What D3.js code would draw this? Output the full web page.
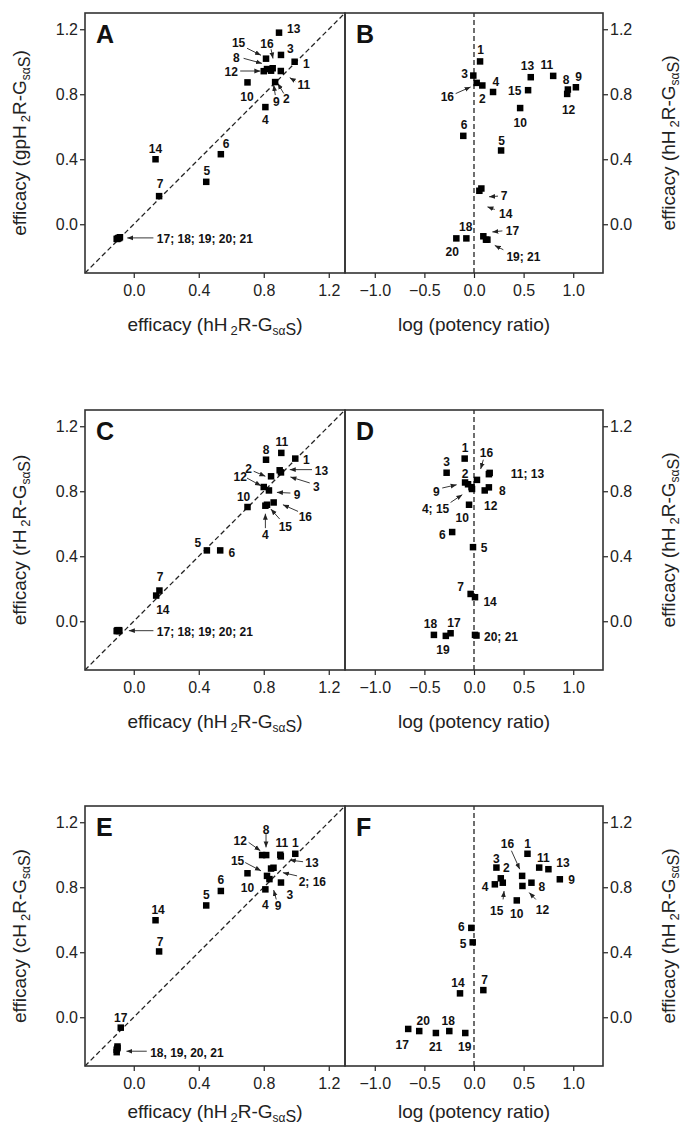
<!DOCTYPE html>
<html><head><meta charset="utf-8">
<script src="https://cdn.jsdelivr.net/npm/d3@7"></script>
<style>
body{margin:0;background:#fff}
svg{display:block}
text{font-family:"Liberation Sans",Arial,Helvetica,sans-serif}
</style>
</head><body>
<svg id="c" width="683" height="1126"></svg>
<script>
// ---------- DATA (compounds 1..21) ----------
const compounds = d3.range(1, 22).map(String);

// Panel A: x = efficacy hH2R-Gsas, y = efficacy gpH2R-Gsas
const effH_A  = [0.99,0.87,0.906,0.81,0.446,0.536,0.156,0.82,0.845,0.70,0.905,0.80,0.894,0.134,0.814,0.855,-0.085,-0.095,-0.10,-0.09,-0.105];
const effGp_A = [1.00,0.875,1.042,0.721,0.261,0.431,0.173,0.955,0.945,0.873,0.943,0.942,1.179,0.40,1.019,0.96,-0.08,-0.085,-0.09,-0.085,-0.09];
// Panel B: x = log potency ratio (gp), y = efficacy hH2R
const logPR_B = [0.061,0.084,-0.007,0.192,0.273,-0.108,0.074,0.946,1.027,0.465,0.798,0.939,0.572,0.054,0.545,0.027,0.094,-0.077,0.121,-0.178,0.135];
const effH_B  = [1.002,0.854,0.915,0.814,0.454,0.544,0.22,0.829,0.843,0.715,0.913,0.802,0.905,0.206,0.825,0.87,-0.074,-0.087,-0.095,-0.087,-0.095];
// Panel C: x = efficacy hH2R, y = efficacy rH2R
const effH_C  = [0.994,0.845,0.906,0.81,0.45,0.532,0.158,0.814,0.832,0.70,0.908,0.80,0.898,0.138,0.82,0.861,-0.09,-0.10,-0.105,-0.09,-0.10];
const effR_C  = [1.001,0.892,0.916,0.711,0.436,0.436,0.189,0.994,0.805,0.703,1.036,0.826,0.929,0.158,0.717,0.731,-0.055,-0.06,-0.06,-0.06,-0.055];
// Panel D: x = log potency ratio (r), y = efficacy hH2R
const logPR_D = [-0.094,-0.09,-0.276,-0.02,-0.01,-0.22,-0.034,0.15,-0.06,-0.05,0.158,0.108,0.15,0.01,-0.025,0.03,-0.236,-0.404,-0.284,0.01,0.025];
const effH_D  = [1.001,0.854,0.914,0.814,0.456,0.549,0.168,0.824,0.843,0.717,0.913,0.805,0.905,0.148,0.825,0.87,-0.074,-0.084,-0.09,-0.084,-0.088];
// Panel E: x = efficacy hH2R, y = efficacy cH2R
const effH_E  = [0.994,0.845,0.906,0.81,0.446,0.536,0.156,0.815,0.835,0.70,0.902,0.79,0.905,0.134,0.82,0.86,-0.08,-0.10,-0.105,-0.10,-0.105];
const effC_E  = [1.006,0.915,0.829,0.787,0.688,0.777,0.405,0.998,0.85,0.886,1.0,0.998,0.99,0.597,0.87,0.92,-0.064,-0.18,-0.20,-0.19,-0.215];
// Panel F: x = log potency ratio (c), y = efficacy hH2R
const logPR_F = [0.539,0.27,0.226,0.21,-0.013,-0.027,0.094,0.579,0.865,0.431,0.657,0.488,0.75,-0.141,0.29,0.485,-0.663,-0.249,-0.088,-0.552,-0.384];
const effH_F  = [1.006,0.855,0.921,0.818,0.461,0.55,0.167,0.828,0.849,0.719,0.921,0.808,0.911,0.147,0.828,0.87,-0.072,-0.085,-0.097,-0.085,-0.097];

// tick values
const effTicks = [0.0, 0.4, 0.8, 1.2];
const logTicks = [-1.0, -0.5, 0.0, 0.5, 1.0];

// annotation labels [text, x, y, anchor] and arrows [x1,y1,x2,y2] in data units
const labA = [["13",0.984,1.206],["15",0.645,1.118],["16",0.82,1.114],["3",0.964,1.083],["8",0.631,1.027],["1",1.062,0.986],
  ["12",0.60,0.939],["11",1.046,0.857],["10",0.697,0.785],["2",0.939,0.775],["9",0.877,0.754],["4",0.81,0.641],["6",0.569,0.493],
  ["5",0.45,0.329],["14",0.134,0.466],["7",0.162,0.251],["17; 18; 19; 20; 21",0.142,-0.088,"start"]];
const arrA = [[0.697,1.083,0.783,1.04],[0.845,1.077,0.857,1.02],[0.676,1.021,0.789,0.99],[0.655,0.943,0.779,0.943],
  [0.994,0.881,0.96,0.902],[0.923,0.805,0.886,0.867],[0.871,0.795,0.861,0.857],[0.121,-0.084,-0.04,-0.084]];
const labB = [["1",0.067,1.072],["3",-0.094,0.928],["4",0.219,0.88],["16",-0.269,0.788],["2",0.084,0.771],["13",0.539,0.973],
  ["11",0.734,0.984],["15",0.411,0.819],["8",0.929,0.891],["9",1.054,0.911],["12",0.953,0.705],["10",0.465,0.627],["6",-0.101,0.61],
  ["5",0.279,0.515],["7",0.303,0.177],["14",0.32,0.066],["18",-0.084,-0.016],["17",0.387,-0.041],["20",-0.219,-0.171],["19; 21",0.498,-0.202]];
const arrB = [[-0.185,0.804,-0.034,0.845],[0.242,0.173,0.152,0.169],[0.209,0.091,0.135,0.107],[0.286,-0.041,0.185,-0.047],[0.296,-0.157,0.209,-0.13]];
const labC = [["11",0.912,1.107],["8",0.814,1.056],["1",1.062,0.994],["2",0.707,0.937],["13",1.155,0.929],["12",0.655,0.888],
  ["3",1.124,0.83],["9",1.005,0.779],["10",0.676,0.764],["16",1.056,0.645],["15",0.933,0.584],["4",0.81,0.532],["5",0.394,0.481],
  ["6",0.604,0.423],["7",0.162,0.275],["14",0.179,0.07],["17; 18; 19; 20; 21",0.142,-0.062,"start"]];
const arrC = [[0.738,0.923,0.81,0.892],[1.097,0.933,0.96,0.933],[0.697,0.881,0.783,0.834],[1.083,0.851,0.964,0.888],
  [0.964,0.789,0.881,0.793],[1.011,0.676,0.918,0.717],[0.898,0.629,0.844,0.69],[0.81,0.573,0.81,0.662],[0.121,-0.058,-0.03,-0.058]];
const labD = [["1",-0.091,1.07],["16",0.125,1.04],["3",-0.276,0.984],["2",-0.091,0.908],["11; 13",0.37,0.906,"start"],["9",-0.38,0.799],
  ["8",0.286,0.803],["4; 15",-0.387,0.69],["12",0.168,0.711],["10",-0.118,0.635],["6",-0.32,0.532],["5",0.101,0.45],["7",-0.135,0.214],
  ["14",0.162,0.121],["18",-0.438,-0.012],["17",-0.202,-0.008],["19",-0.313,-0.173],["20; 21",0.101,-0.095,"start"]];
const arrD = [[0.094,0.994,0.067,0.937],[-0.32,0.82,-0.175,0.84],[-0.236,0.731,-0.118,0.779]];
const labE = [["8",0.814,1.155],["12",0.655,1.087],["11",0.912,1.072],["1",0.994,1.076],["15",0.639,0.963],["13",1.097,0.952],
  ["2; 16",1.015,0.833,"start"],["10",0.70,0.798],["3",0.96,0.756],["4",0.81,0.69],["9",0.888,0.684],["6",0.536,0.845],["5",0.446,0.756],
  ["14",0.15,0.659],["7",0.162,0.467],["17",-0.08,-0.002],["18, 19, 20, 21",0.101,-0.215,"start"]];
const arrE = [[0.814,1.128,0.814,1.045],[0.707,1.076,0.779,1.025],[0.686,0.952,0.783,0.901],[1.042,0.957,0.96,0.967],
  [1.005,0.87,0.918,0.89],[0.877,0.725,0.861,0.783],[0.08,-0.209,-0.045,-0.209]];
const labF = [["16",0.337,1.066],["1",0.539,1.066],["3",0.226,0.977],["2",0.327,0.921],["11",0.70,0.983],["13",0.896,0.952],
  ["9",0.983,0.845],["4",0.111,0.804],["8",0.684,0.804],["15",0.229,0.653],["10",0.431,0.638],["12",0.69,0.659],["6",-0.128,0.556],
  ["5",-0.111,0.45],["14",-0.162,0.213],["7",0.108,0.233],["20",-0.512,-0.019],["18",-0.259,-0.019],["17",-0.724,-0.169],
  ["21",-0.387,-0.184],["19",-0.094,-0.184]];
const arrF = [[0.377,1.025,0.461,0.911],[0.293,0.725,0.303,0.777],[0.623,0.725,0.556,0.767]];

// ---------- LAYOUT ----------
const svg = d3.select("#c");
const rowTop = [13, 410, 806];
const titleGap = [58, 58, 52];
const PH = 260;
const LX = [85, 345], RX = [345, 603];
const ink = "#222";

const defs = svg.append("defs");
defs.append("marker").attr("id","ah").attr("viewBox","0 0 10 10").attr("refX",10).attr("refY",5)
  .attr("markerWidth",6).attr("markerHeight",6).attr("markerUnits","userSpaceOnUse").attr("orient","auto")
  .append("path").attr("d","M0,1 L10,5 L0,9 Z").attr("fill",ink);

const panels = [
  {L:"A",row:0,side:"L",xs:effH_A,ys:effGp_A,lab:labA,arr:arrA,pre:"gp"},
  {L:"B",row:0,side:"R",xs:logPR_B,ys:effH_B,lab:labB,arr:arrB},
  {L:"C",row:1,side:"L",xs:effH_C,ys:effR_C,lab:labC,arr:arrC,pre:"r"},
  {L:"D",row:1,side:"R",xs:logPR_D,ys:effH_D,lab:labD,arr:arrD},
  {L:"E",row:2,side:"L",xs:effH_E,ys:effC_E,lab:labE,arr:arrE,pre:"c"},
  {L:"F",row:2,side:"R",xs:logPR_F,ys:effH_F,lab:labF,arr:arrF}
];

function effTitle(t, pre){
  t.append("tspan").text("efficacy (" + pre + "H");
  t.append("tspan").attr("font-size","13px").attr("dx",3).attr("dy",4).text("2");
  t.append("tspan").attr("dy",-4).text("R-G");
  t.append("tspan").attr("font-size","12px").attr("dy",4).text("sα");
  t.append("tspan").attr("font-size","16px").text("S");
  t.append("tspan").attr("dy",-4).text(")");
}

panels.forEach(p => {
  const top = rowTop[p.row], bot = top + PH;
  const xr = p.side === "L" ? LX : RX;
  const x = d3.scaleLinear().domain(p.side === "L" ? [-0.3, 1.3] : [-1.3, 1.3]).range(xr);
  const y = d3.scaleLinear().domain([-0.3, 1.3]).range([bot, top]);
  const g = svg.append("g");

  // reference dashed line
  if (p.side === "L") {
    g.append("line").attr("x1",x(-0.3)).attr("y1",y(-0.3)).attr("x2",x(1.3)).attr("y2",y(1.3))
      .attr("stroke",ink).attr("stroke-width",1.3).attr("stroke-dasharray","5,3");
  } else {
    g.append("line").attr("x1",x(0)).attr("y1",y(-0.3)).attr("x2",x(0)).attr("y2",y(1.3))
      .attr("stroke",ink).attr("stroke-width",1.3).attr("stroke-dasharray","5,3");
  }

  // axes
  const xAxis = d3.axisBottom(x).tickValues(p.side === "L" ? effTicks : logTicks)
    .tickFormat(d3.format(".1f")).tickSize(5).tickPadding(7);
  const xg = g.append("g").attr("transform",`translate(0,${bot})`).call(xAxis);
  let yg;
  if (p.side === "L") {
    yg = g.append("g").attr("transform",`translate(${xr[0]},0)`)
      .call(d3.axisLeft(y).tickValues(effTicks).tickFormat(d3.format(".1f")).tickSize(5).tickPadding(2));
  } else {
    yg = g.append("g").attr("transform",`translate(${xr[1]},0)`)
      .call(d3.axisRight(y).tickValues(effTicks).tickFormat(d3.format(".1f")).tickSize(5).tickPadding(2));
  }
  [xg, yg].forEach(a => {
    a.select(".domain").remove();
    a.selectAll("line").attr("stroke",ink).attr("stroke-width",1.2);
    a.selectAll("text").attr("fill",ink).attr("font-size","16px")
      .attr("font-family",'"Liberation Sans",Arial,sans-serif');
  });

  // frame
  g.append("rect").attr("x",xr[0]).attr("y",top).attr("width",xr[1]-xr[0]).attr("height",PH)
    .attr("fill","none").attr("stroke","#333").attr("stroke-width",1.6);

  // arrows
  g.selectAll(".arr").data(p.arr).join("line")
    .attr("x1",d=>x(d[0])).attr("y1",d=>y(d[1])).attr("x2",d=>x(d[2])).attr("y2",d=>y(d[3]))
    .attr("stroke",ink).attr("stroke-width",0.9).attr("marker-end","url(#ah)");

  // points
  const s = 6.5;
  g.selectAll(".pt").data(compounds).join("rect")
    .attr("x",(d,i)=>x(p.xs[i]) - s/2).attr("y",(d,i)=>y(p.ys[i]) - s/2)
    .attr("width",s).attr("height",s).attr("fill","#000");

  // point labels
  g.selectAll(".lb").data(p.lab).join("text")
    .attr("x",d=>x(d[1])).attr("y",d=>y(d[2])).attr("dy","0.36em")
    .attr("text-anchor",d=>d[3] || "middle")
    .attr("font-size","12px").attr("font-weight","bold").attr("fill","#111").text(d=>d[0]);

  // panel letter
  g.append("text").attr("x",xr[0]+11).attr("y",top+30).attr("font-size","25px").attr("font-weight","bold")
    .attr("fill","#111").text(p.L);

  // x-axis title
  const xt = g.append("text").attr("x",(xr[0]+xr[1])/2).attr("y",bot+titleGap[p.row]).attr("text-anchor","middle")
    .attr("font-size","19px").attr("fill",ink);
  if (p.side === "L") effTitle(xt, "h"); else xt.text("log (potency ratio)");

  // y-axis title
  const cy = (top + bot) / 2;
  if (p.side === "L") {
    const yt = g.append("text").attr("transform",`translate(26,${cy}) rotate(-90)`).attr("text-anchor","middle")
      .attr("font-size","19px").attr("fill",ink);
    effTitle(yt, p.pre);
  } else {
    const yt = g.append("text").attr("transform",`translate(675,${cy}) rotate(-90)`).attr("text-anchor","middle")
      .attr("font-size","19px").attr("fill",ink);
    effTitle(yt, "h");
  }
});
</script>
</body></html>
